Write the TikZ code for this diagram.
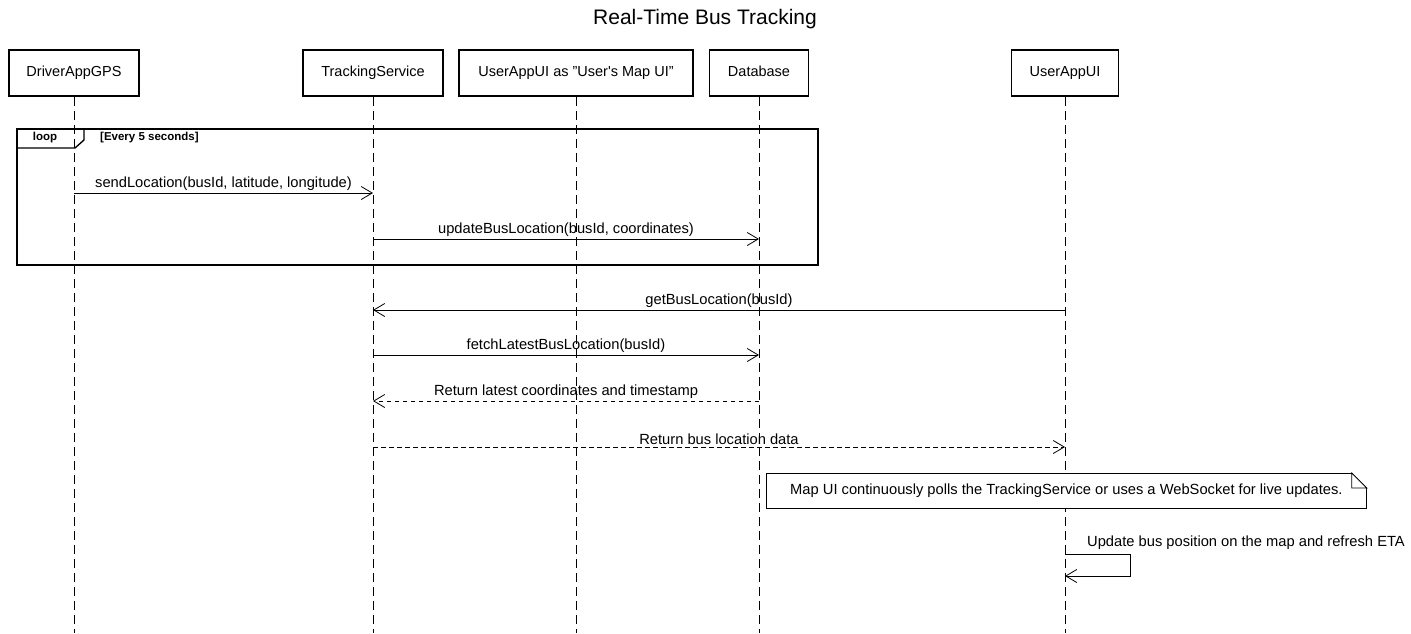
\documentclass[tikz,border=0pt]{standalone}
\usepackage{fontspec}
\setmainfont{Liberation Sans}
\usetikzlibrary{arrows.meta}

\begin{document}
\begin{tikzpicture}[x=1pt, y=-1pt]

\tikzset{partbox/.style={draw, rectangle, line width=1.6pt, minimum height=46pt, inner sep=0pt, text height=10.5pt, text depth=3pt, font=\fontsize{14.5}{17}\selectfont}}
\tikzset{lifeline/.style={line width=0.8pt, dash pattern=on 9pt off 5pt}}
\tikzset{msg/.style={line width=0.8pt, -{Straight Barb[length=11pt, width=13pt, line width=0.8pt]}}}
\tikzset{reply/.style={msg, dash pattern=on 4.5pt off 3.5pt}}
\tikzset{msglabel/.style={midway, above, inner sep=2pt, font=\fontsize{14.7}{17}\selectfont}}

\useasboundingbox (0,0) rectangle (1411,633);

% figure title
\node at (705, 19) (title) {\fontsize{21}{25}\selectfont Real-Time Bus Tracking};

% participants
\node[partbox, minimum width=130pt] at ( 74, 73) (drv) {DriverAppGPS};
\node[partbox, minimum width=140pt] at (373, 73) (trk) {TrackingService};
\node[partbox, minimum width=234pt] at (576, 73) (map) {UserAppUI as "User\textquotesingle s Map UI"};
\node[partbox, minimum width=99pt]  at (759, 73) (db)  {Database};
\node[partbox, minimum width=107pt] at (1065, 73) (usr) {UserAppUI};

% lifelines
\foreach \p in {drv, trk, map, db, usr}
  \draw[lifeline] (\p.south) -- (\p.south |- 0, 633);

% loop frame
\node[draw, line width=1.6pt, anchor=north west, minimum width=801pt, minimum height=136pt] at (16, 128) (frame) {};
\draw[line width=1.4pt] (frame.north west) ++(0, 20) -- ++(59, 0) -- ++(9, -8) -- ++(0, -12);
\node[font=\bfseries\fontsize{11.5}{13}\selectfont] at (45, 137.5) (looptag) {loop};
\node[anchor=west, inner sep=0pt, font=\bfseries\fontsize{11.5}{13}\selectfont] at (100, 137.5) (guard) {[Every 5 seconds]};

% message rows
\coordinate (m1) at (0, 193);
\coordinate (m2) at (0, 239);
\coordinate (m3) at (0, 310);
\coordinate (m4) at (0, 355);
\coordinate (m5) at (0, 401);
\coordinate (m6) at (0, 447);
\coordinate (m7) at (0, 554);
\coordinate (m8) at (0, 576);
\coordinate (turn) at (1130, 0);

% interactions
\draw[msg] (drv |- m1) -- (trk |- m1) node[msglabel] {sendLocation(busId, latitude, longitude)};
\draw[msg] (trk |- m2) -- (db |- m2) node[msglabel] {updateBusLocation(busId, coordinates)};
\draw[msg] (usr |- m3) -- (trk |- m3) node[msglabel] {getBusLocation(busId)};
\draw[msg] (trk |- m4) -- (db |- m4) node[msglabel] {fetchLatestBusLocation(busId)};
\draw[reply] (db |- m5) -- (trk |- m5) node[msglabel] {Return latest coordinates and timestamp};
\draw[reply] (trk |- m6) -- (usr |- m6) node[msglabel] {Return bus location data};

% note
\node[draw, line width=0.8pt, fill=white, anchor=north west, minimum width=600pt, minimum height=35pt, font=\fontsize{14.7}{17}\selectfont] at (766, 473) (note) {Map UI continuously polls the TrackingService or uses a WebSocket for live updates.};
\fill[white] (note.north east) -- ++(-15, 0) -- ++(15, 15) -- cycle;
\draw[line width=0.8pt] (note.north east) ++(-15, 0) -- ++(15, 15) -- ++(-15, 0) -- cycle;

% self call
\draw[msg] (usr |- m7) -- (turn |- m7) -- (turn |- m8) -- (usr |- m8);
\node[anchor=west, inner sep=0pt, font=\fontsize{14.7}{17}\selectfont] at (1087, 543) (selflabel) {Update bus position on the map and refresh ETA};

\end{tikzpicture}
\end{document}
